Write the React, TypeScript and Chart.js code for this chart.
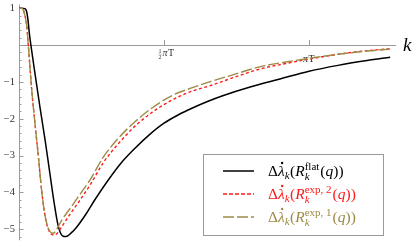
import React, { useEffect, useRef } from "react";
import { Chart, registerables } from "chart.js";

Chart.register(...registerables);

// k in units of πT
const kFlat = [0, 0.01, 0.02, 0.026, 0.031, 0.036, 0.041, 0.055, 0.072, 0.09, 0.105, 0.12, 0.135, 0.15, 0.162, 0.18, 0.2, 0.23, 0.26, 0.3, 0.35, 0.4, 0.45, 0.5, 0.55, 0.6, 0.65, 0.7, 0.8, 0.9, 1.0, 1.1, 1.2, 1.28];
const flatVals = [1, 1, 0.99, 0.92, 0.68, 0.3, 0.0, -0.77, -1.67, -2.58, -3.4, -4.22, -4.9, -5.18, -5.2, -5.1, -4.93, -4.6, -4.22, -3.75, -3.22, -2.8, -2.43, -2.12, -1.89, -1.7, -1.53, -1.38, -1.13, -0.92, -0.71, -0.55, -0.42, -0.33];

const kExp = [0, 0.008, 0.015, 0.021, 0.027, 0.032, 0.044, 0.055, 0.067, 0.078, 0.088, 0.097, 0.106, 0.118, 0.13, 0.15, 0.175, 0.204, 0.245, 0.29, 0.34, 0.4, 0.46, 0.53, 0.6, 0.66, 0.74, 0.83, 0.92, 1.0, 1.1, 1.2, 1.28];
const exp2Vals = [1, 1, 0.95, 0.78, 0.5, 0.0, -1.22, -2.12, -3.04, -3.94, -4.55, -4.9, -5.08, -5.15, -5.12, -4.9, -4.6, -4.28, -3.8, -3.2, -2.7, -2.2, -1.82, -1.48, -1.24, -1.1, -0.88, -0.65, -0.5, -0.38, -0.25, -0.15, -0.1];
const exp1Vals = [1, 1, 0.95, 0.78, 0.5, 0.0, -1.22, -2.12, -3.04, -3.94, -4.55, -4.88, -5.05, -5.11, -5.0, -4.72, -4.45, -4.12, -3.66, -3.05, -2.55, -2.08, -1.7, -1.36, -1.15, -0.99, -0.8, -0.59, -0.46, -0.36, -0.25, -0.16, -0.11];

const yTickVals = [1, -1, -2, -3, -4, -5];
const yTickLabels = ["1", "\u22121", "\u22122", "\u22123", "\u22124", "\u22125"];

const BLACK = "#000000";
const RED = "#ff1a1a";
const OLIVE = "#9c8a45";
const AXIS = "#9a9a9a";
const SERIF = '"Liberation Serif", "DejaVu Serif", serif';

const legendRows = [
  { sup: "flat", color: BLACK, dash: [] as number[] },
  { sup: "exp, 2", color: RED, dash: [4, 2] },
  { sup: "exp, 1", color: OLIVE, dash: [11, 3] },
];

function drawMath(ctx: CanvasRenderingContext2D, x: number, y: number, sup: string, color: string) {
  ctx.save();
  ctx.fillStyle = color;
  ctx.textBaseline = "alphabetic";
  ctx.textAlign = "left";
  let cx = x;
  const put = (t: string, size: number, italic: boolean, dy: number) => {
    ctx.font = `${italic ? "italic " : ""}${size}px ${SERIF}`;
    ctx.fillText(t, cx, y + dy);
    return ctx.measureText(t).width;
  };
  const S = 15.5;
  const s = 11;
  cx += put("\u0394", S, false, 0);
  const lx = cx;
  const lw = put("\u03bb", S, true, 0);
  ctx.beginPath();
  ctx.arc(lx + lw * 0.62, y - 13, 1.2, 0, Math.PI * 2);
  ctx.fill();
  cx += lw;
  cx += put("k", s, true, 3);
  cx += 0.5;
  cx += put("(", S, false, 0);
  cx += put("R", S, true, 0);
  const sx = cx;
  const w1 = put(sup, s, false, -6.5);
  cx = sx;
  const w2 = put("k", s, true, 4);
  cx = sx + Math.max(w1, w2) + 1;
  cx += put("(", S, false, 0);
  cx += put("q", S, true, 0);
  cx += put(")", S, false, 0);
  cx += put(")", S, false, 0);
  ctx.restore();
}

const decoPlugin = {
  id: "deco",
  beforeDatasetsDraw(chart: any) {
    const ctx: CanvasRenderingContext2D = chart.ctx;
    const xs = chart.scales.x;
    const ys = chart.scales.y;
    const x0 = xs.getPixelForValue(0);
    const y0 = ys.getPixelForValue(0);
    ctx.save();
    ctx.strokeStyle = AXIS;
    ctx.lineWidth = 1;
    ctx.beginPath();
    ctx.moveTo(xs.left, Math.round(y0) + 0.5);
    ctx.lineTo(xs.right, Math.round(y0) + 0.5);
    ctx.stroke();
    ctx.beginPath();
    ctx.moveTo(Math.round(x0) + 0.5, ys.top);
    ctx.lineTo(Math.round(x0) + 0.5, ys.bottom);
    ctx.stroke();
    for (let i = -26; i <= 5; i++) {
      const v = i / 5;
      const py = Math.round(ys.getPixelForValue(v)) + 0.5;
      const major = i % 5 === 0;
      if (v === 0) continue;
      ctx.beginPath();
      ctx.moveTo(Math.round(x0), py);
      ctx.lineTo(Math.round(x0) + (major ? 4.5 : 2.5), py);
      ctx.stroke();
    }
    [0.5, 1].forEach((v) => {
      const px = Math.round(xs.getPixelForValue(v)) + 0.5;
      ctx.beginPath();
      ctx.moveTo(px, Math.round(y0));
      ctx.lineTo(px, Math.round(y0) - 5);
      ctx.stroke();
    });
    ctx.fillStyle = "#333";
    ctx.font = `10.5px ${SERIF}`;
    ctx.textAlign = "right";
    ctx.textBaseline = "middle";
    yTickVals.forEach((v, i) => {
      ctx.fillText(yTickLabels[i], x0 - 4, ys.getPixelForValue(v));
    });
    const hx = xs.getPixelForValue(0.5);
    ctx.textAlign = "center";
    ctx.textBaseline = "alphabetic";
    ctx.font = `6px ${SERIF}`;
    ctx.fillText("1", hx - 4, y0 + 8);
    ctx.fillText("2", hx - 4, y0 + 13.5);
    ctx.beginPath();
    ctx.lineWidth = 0.5;
    ctx.moveTo(hx - 6, y0 + 9);
    ctx.lineTo(hx - 2, y0 + 9);
    ctx.stroke();
    ctx.textAlign = "left";
    ctx.font = `italic 10px ${SERIF}`;
    ctx.fillText("\u03c0", hx - 1.5, y0 + 11);
    ctx.font = `10px ${SERIF}`;
    ctx.fillText("T", hx + 4, y0 + 11);
    const px1 = xs.getPixelForValue(1);
    ctx.font = `italic 10px ${SERIF}`;
    ctx.fillText("\u03c0", px1 - 6, y0 + 17);
    ctx.font = `10px ${SERIF}`;
    ctx.fillText("T", px1 - 0.5, y0 + 17);
    ctx.fillStyle = "#000";
    ctx.font = `italic 19px ${SERIF}`;
    ctx.textBaseline = "middle";
    ctx.fillText("k", xs.right + 7, y0 + 1);
    ctx.restore();
  },
  afterDraw(chart: any) {
    const ctx: CanvasRenderingContext2D = chart.ctx;
    ctx.save();
    const bx = 203.5, by = 154.5, bw = 180, bh = 81;
    ctx.fillStyle = "#ffffff";
    ctx.fillRect(bx, by, bw, bh);
    ctx.strokeStyle = AXIS;
    ctx.lineWidth = 1;
    ctx.strokeRect(bx, by, bw, bh);
    const rowsY = [171, 194, 217];
    legendRows.forEach((r, i) => {
      const y = rowsY[i];
      ctx.strokeStyle = r.color;
      ctx.lineWidth = 1.5;
      ctx.setLineDash(r.dash);
      ctx.beginPath();
      ctx.moveTo(223, y);
      ctx.lineTo(254, y);
      ctx.stroke();
      ctx.setLineDash([]);
      drawMath(ctx, 268, y + 5, r.sup, r.color);
    });
    ctx.restore();
  },
};

export default function App() {
  const ref = useRef<HTMLCanvasElement | null>(null);
  useEffect(() => {
    document.body.style.margin = "0";
    const canvas = ref.current!;
    const mk = (ks: number[], vs: number[]) => ks.map((x, i) => ({ x, y: vs[i] }));
    const chart = new Chart(canvas, {
      type: "line",
      data: {
        datasets: [
          { label: "flat", data: mk(kFlat, flatVals), borderColor: BLACK, borderWidth: 1.5, pointRadius: 0, cubicInterpolationMode: "monotone", order: 2 },
          { label: "exp2", data: mk(kExp, exp2Vals), borderColor: RED, borderWidth: 1.4, borderDash: [3, 2.5], pointRadius: 0, cubicInterpolationMode: "monotone", order: 1 },
          { label: "exp1", data: mk(kExp, exp1Vals), borderColor: OLIVE, borderWidth: 1.4, borderDash: [11, 3], pointRadius: 0, cubicInterpolationMode: "monotone", order: 0 },
        ],
      },
      options: {
        responsive: false,
        animation: false,
        devicePixelRatio: 1,
        layout: { padding: { left: 19, right: 19, top: 4.6, bottom: 5.7 } },
        plugins: { legend: { display: false }, tooltip: { enabled: false } },
        scales: {
          x: { type: "linear", min: 0, max: 1.3, display: false },
          y: { type: "linear", min: -5.3, max: 1.1, display: false },
        },
      } as any,
      plugins: [decoPlugin],
    });
    return () => chart.destroy();
  }, []);
  return (
    <div style={{ position: "absolute", left: 0, top: 0, width: 415, height: 246 }}>
      <canvas ref={ref} width={415} height={246} style={{ width: 415, height: 246 }} />
    </div>
  );
}
